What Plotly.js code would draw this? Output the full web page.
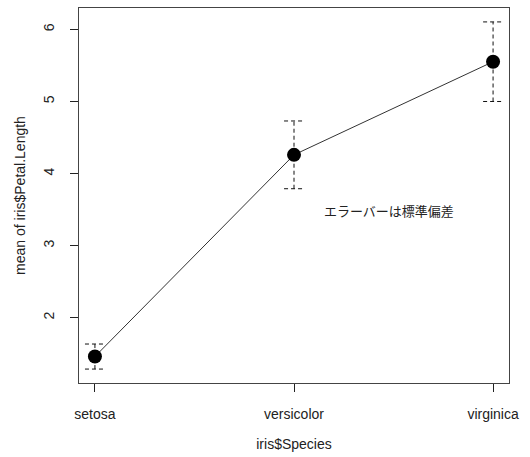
<!DOCTYPE html>
<html><head><meta charset="utf-8">
<script src="https://cdn.plot.ly/plotly-3.0.1.min.js"></script>
<style>body{margin:0;background:#fff}#c{width:530px;height:457px}</style>
</head><body><div id="c"></div>
<script>
const species = ["setosa", "versicolor", "virginica"];
const means = [1.462, 4.260, 5.552];
const sds = [0.1737, 0.4699, 0.5519];
const yTicks = [2, 3, 4, 5, 6];
const note = "エラーバーは標準偏差";

const xs = species.map((s, i) => i + 1);
const capHalf = 0.05;
const traces = [];
xs.forEach((x, i) => {
  const lo = means[i] - sds[i], hi = means[i] + sds[i];
  const dashLine = {color: "#111", width: 1, dash: "4px,3px"};
  traces.push({x: [x, x], y: [lo, hi], mode: "lines", line: dashLine, hoverinfo: "skip"});
  traces.push({x: [x - capHalf, x + capHalf], y: [lo, lo], mode: "lines", line: dashLine, hoverinfo: "skip"});
  traces.push({x: [x - capHalf, x + capHalf], y: [hi, hi], mode: "lines", line: dashLine, hoverinfo: "skip"});
});
traces.push({x: xs, y: means, mode: "lines+markers",
  line: {color: "#333", width: 1},
  marker: {color: "#000", size: 14}});

const font = {family: "Liberation Sans, Arial, sans-serif", size: 14, color: "#222"};
const layout = {
  width: 530, height: 457,
  margin: {l: 79, r: 21, t: 8, b: 74},
  showlegend: false,
  paper_bgcolor: "#fff", plot_bgcolor: "#fff",
  font: font,
  xaxis: {range: [0.92, 3.08], tickvals: xs, ticktext: species,
    showgrid: false, zeroline: false, showline: true, mirror: true, linecolor: "#444", linewidth: 1,
    ticks: "outside", ticklen: 8, tickcolor: "#222", ticklabelstandoff: 10,
    title: {text: "iris$Species", standoff: 18, font: font}},
  yaxis: {range: [1.095, 6.297], tickvals: yTicks, tickangle: -90,
    showgrid: false, zeroline: false, showline: true, mirror: true, linecolor: "#444", linewidth: 1,
    ticks: "outside", ticklen: 8, tickcolor: "#222", ticklabelstandoff: 10,
    title: {text: "mean of iris$Petal.Length", standoff: 12, font: font}},
  annotations: [{x: 2.475, y: 3.49, xref: "x", yref: "y", text: note, showarrow: false,
    font: {family: "Noto Sans CJK JP, sans-serif", size: 13, color: "#222"}}]
};
Plotly.newPlot("c", traces, layout, {displayModeBar: false, staticPlot: true});
</script></body></html>
